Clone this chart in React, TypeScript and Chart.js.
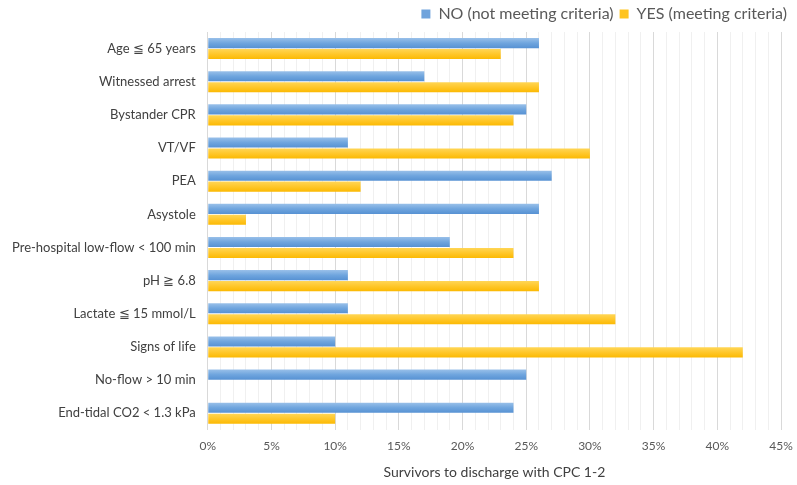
import React, { useEffect, useRef } from "react";
import { Chart, registerables } from "chart.js";

Chart.register(...registerables);

const categories = [
  "Age ≦ 65 years",
  "Witnessed arrest",
  "Bystander CPR",
  "VT/VF",
  "PEA",
  "Asystole",
  "Pre-hospital low-flow < 100 min",
  "pH ≧ 6.8",
  "Lactate ≦ 15 mmol/L",
  "Signs of life",
  "No-flow > 10 min",
  "End-tidal CO2 < 1.3 kPa",
];

const noValues = [26, 17, 25, 11, 27, 26, 19, 11, 11, 10, 25, 24];
const yesValues = [23, 26, 24, 30, 12, 3, 24, 26, 32, 42, 0, 10];

const seriesNames = ["NO (not meeting criteria)", "YES (meeting criteria)"];
const xMax = 45;

const CAT_PCT = 0.66;
const BAR_PCT = 0.92;

function makeGradient(ctx: any, which: number) {
  const chart = ctx.chart;
  const yScale = chart.scales && chart.scales.y;
  const area = chart.chartArea;
  const solid = which === 0 ? "#6fa3dc" : "#ffc41f";
  if (!yScale || !area || ctx.dataIndex == null) return solid;
  const center = yScale.getPixelForValue(ctx.dataIndex);
  const catW = (area.bottom - area.top) / categories.length;
  const t = (catW * CAT_PCT) / 2;
  const top = which === 0 ? center - t : center;
  const bot = top + t;
  if (!isFinite(top) || !isFinite(bot)) return solid;
  const g = chart.ctx.createLinearGradient(0, top, 0, bot);
  if (which === 0) {
    g.addColorStop(0, "#9cc2ea");
    g.addColorStop(0.5, "#6fa5de");
    g.addColorStop(1, "#5590d2");
  } else {
    g.addColorStop(0, "#ffd75a");
    g.addColorStop(0.5, "#ffc72a");
    g.addColorStop(1, "#fbb800");
  }
  return g;
}

export default function App() {
  const canvasRef = useRef<HTMLCanvasElement | null>(null);

  useEffect(() => {
    if (!canvasRef.current) return;
    Chart.defaults.font.family = "Lato, 'Open Sans', sans-serif";
    const chart = new Chart(canvasRef.current, {
      type: "bar",
      data: {
        labels: categories,
        datasets: [
          {
            label: seriesNames[0],
            data: noValues,
            backgroundColor: (ctx: any) => makeGradient(ctx, 0),
            borderWidth: 0,
            categoryPercentage: CAT_PCT,
            barPercentage: BAR_PCT,
          },
          {
            label: seriesNames[1],
            data: yesValues,
            backgroundColor: (ctx: any) => makeGradient(ctx, 1),
            borderWidth: 0,
            categoryPercentage: CAT_PCT,
            barPercentage: BAR_PCT,
          },
        ],
      },
      options: {
        indexAxis: "y",
        animation: false,
        responsive: true,
        maintainAspectRatio: false,
        layout: { padding: { left: 0, right: 4, top: 0, bottom: 0 } },
        plugins: {
          legend: {
            position: "top",
            align: "end",
            labels: {
              boxWidth: 9,
              boxHeight: 9,
              color: "#595959",
              font: { size: 16 },
              padding: 6,
              generateLabels: (c: any) =>
                c.data.datasets.map((ds: any, i: number) => ({
                  text: ds.label,
                  fillStyle: i === 0 ? "#6fa3dc" : "#ffc41f",
                  strokeStyle: i === 0 ? "#6fa3dc" : "#ffc41f",
                  lineWidth: 0,
                  datasetIndex: i,
                  fontColor: "#595959",
                })),
            },
          },
          tooltip: { enabled: false },
        },
        scales: {
          x: {
            min: 0,
            max: xMax,
            afterFit: (scale: any) => {
              scale.paddingRight = 16;
            },
            ticks: {
              stepSize: 1,
              autoSkip: false,
              maxRotation: 0,
              color: "#595959",
              font: { size: 12 },
              padding: 9,
              callback: (v: any) => (Number(v) % 5 === 0 ? `${v}%` : ""),
            },
            grid: {
              color: (ctx: any) =>
                ctx.tick && ctx.tick.value % 5 === 0 ? "#d9d9d9" : "#f0f0f0",
              drawTicks: false,
            },
            border: { display: false },
            title: {
              display: true,
              text: "Survivors to discharge with CPC 1-2",
              color: "#404040",
              font: { size: 14 },
              padding: { top: 2, bottom: 4 },
            },
          },
          y: {
            ticks: {
              color: "#404040",
              font: { size: 13 },
              padding: 12,
              autoSkip: false,
            },
            grid: { display: false, drawTicks: false },
            border: { display: true, color: "#d9d9d9" },
          },
        },
      },
    });
    return () => chart.destroy();
  }, []);

  return (
    <div style={{ position: "fixed", left: 0, top: 0, width: 797, height: 485 }}>
      <canvas ref={canvasRef} />
    </div>
  );
}
